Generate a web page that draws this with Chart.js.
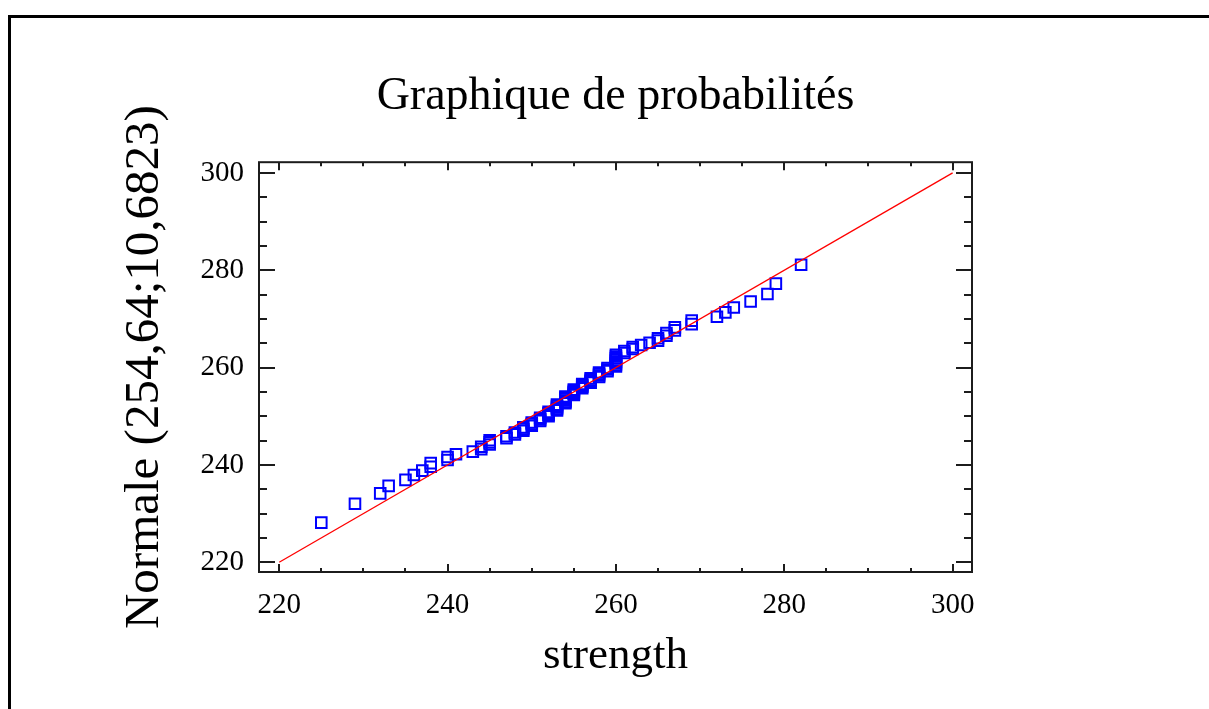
<!DOCTYPE html>
<html>
<head>
<meta charset="utf-8">
<script src="https://cdn.jsdelivr.net/npm/chart.js@4.4.0/dist/chart.umd.min.js"></script>
<style>
  body { margin: 0; background: #fff; overflow: hidden; }
  #frame { position: absolute; left: 8px; top: 15px; width: 1300px; height: 800px;
           border-left: 3px solid #000; border-top: 3px solid #000; }
  canvas { position: absolute; left: 0; top: 0; }
</style>
</head>
<body>
<div id="frame"></div>
<canvas id="myChart" width="1209" height="709"></canvas>
<script>
// sorted strength values (x)
var strength = [
  225, 229, 232, 233, 235, 236, 237, 238, 238, 240,
  240, 241, 243, 244, 244, 245, 245, 245, 247, 247,
  248, 248, 249, 249, 249, 250, 250, 250, 251, 251,
  251, 252, 252, 252, 252, 253, 253, 253, 253, 253,
  254, 254, 254, 254, 254, 254, 255, 255, 255, 255,
  255, 256, 256, 256, 256, 257, 257, 257, 257, 258,
  258, 258, 258, 259, 259, 259, 260, 260, 260, 260,
  260, 260, 260, 260, 261, 261, 262, 262, 263, 264,
  265, 265, 266, 266, 267, 267, 269, 269, 272, 273,
  274, 276, 278, 279, 282
];
// matching positions on the Normale(254,64;10,6823) axis
var normale = [
  228.15, 232.02, 234.16, 235.69, 236.92, 237.94, 238.84, 239.63, 240.36, 241.01,
  241.63, 242.20, 242.74, 243.24, 243.73, 244.19, 244.64, 245.07, 245.47, 245.88,
  246.27, 246.65, 247.01, 247.37, 247.72, 248.06, 248.40, 248.73, 249.05, 249.37,
  249.68, 250.00, 250.30, 250.61, 250.91, 251.21, 251.50, 251.80, 252.09, 252.38,
  252.66, 252.94, 253.23, 253.52, 253.80, 254.07, 254.36, 254.64, 254.92, 255.21,
  255.48, 255.76, 256.05, 256.34, 256.62, 256.90, 257.19, 257.48, 257.78, 258.07,
  258.37, 258.67, 258.98, 259.28, 259.60, 259.91, 260.23, 260.55, 260.88, 261.22,
  261.56, 261.91, 262.27, 262.63, 263.01, 263.40, 263.81, 264.21, 264.64, 265.09,
  265.55, 266.04, 266.54, 267.08, 267.65, 268.27, 268.92, 269.65, 270.44, 271.34,
  272.36, 273.59, 275.12, 277.26, 281.13
];
// reference line y = x
var refX = [220, 300];
var refY = [220, 300];

var xTicks = [220, 240, 260, 280, 300];
var yTicks = [220, 240, 260, 280, 300];
var minorStep = 5;

Chart.defaults.font.family = "'Liberation Serif', 'Times New Roman', serif";
Chart.defaults.color = '#000';

// box around the plot with inward ticks on all four sides
var boxTicks = {
  id: 'boxTicks',
  afterDatasetsDraw: function(chart) {
    var ctx = chart.ctx, a = chart.chartArea;
    var xs = chart.scales.x, ys = chart.scales.y;
    ctx.save();
    ctx.strokeStyle = '#1c1c1c';
    ctx.lineWidth = 2;
    ctx.strokeRect(a.left, a.top, a.right - a.left, a.bottom - a.top);
    ctx.beginPath();
    var v, p, len;
    for (v = xTicks[0]; v <= xTicks[xTicks.length - 1]; v += minorStep) {
      p = Math.round(xs.getPixelForValue(v));
      len = xTicks.indexOf(v) >= 0 ? 8 : 4;
      ctx.moveTo(p, a.bottom); ctx.lineTo(p, a.bottom - len);
      ctx.moveTo(p, a.top); ctx.lineTo(p, a.top + len);
    }
    for (v = yTicks[0]; v <= yTicks[yTicks.length - 1]; v += minorStep) {
      p = Math.round(ys.getPixelForValue(v));
      len = yTicks.indexOf(v) >= 0 ? 16 : 8;
      ctx.moveTo(a.left, p); ctx.lineTo(a.left + len, p);
      ctx.moveTo(a.right, p); ctx.lineTo(a.right - len, p);
    }
    ctx.stroke();
    ctx.restore();
  }
};

var points = strength.map(function(s, i) { return { x: s, y: normale[i] }; });
var line = refX.map(function(s, i) { return { x: s, y: refY[i] }; });

var ctx = document.getElementById('myChart').getContext('2d');
var probChart = new Chart(ctx, {
  type: 'scatter',
  data: {
    datasets: [
      {
        label: 'ref',
        data: line,
        showLine: true,
        borderColor: '#ff0000',
        borderWidth: 1.3,
        pointRadius: 0
      },
      {
        label: 'strength',
        data: points,
        pointStyle: 'rect',
        pointRadius: 7.5,
        borderWidth: 2,
        borderColor: '#0000ff',
        backgroundColor: 'rgba(0,0,0,0)'
      }
    ]
  },
  options: {
    responsive: false,
    animation: false,
    layout: { padding: { left: 0, right: 237, top: 0, bottom: 0 } },
    plugins: {
      legend: { display: false },
      tooltip: { enabled: false },
      title: {
        display: true,
        fullSize: false,
        text: 'Graphique de probabilités',
        color: '#000',
        font: { size: 46, weight: 'normal' },
        padding: { top: 69, bottom: 38 }
      }
    },
    scales: {
      x: {
        type: 'linear',
        min: 217.6,
        max: 302.3,
        grid: { display: false, drawTicks: false },
        border: { display: false },
        afterBuildTicks: function(s) { s.ticks = xTicks.map(function(v) { return { value: v }; }); },
        afterFit: function(s) { s.height = 137; },
        ticks: { color: '#000', font: { size: 29 }, padding: 16, maxRotation: 0 },
        title: {
          display: true, text: 'strength', color: '#000',
          font: { size: 45 }, padding: { top: 0, bottom: 26 }
        }
      },
      y: {
        type: 'linear',
        min: 218,
        max: 302.2,
        grid: { display: false, drawTicks: false },
        border: { display: false },
        afterBuildTicks: function(s) { s.ticks = yTicks.map(function(v) { return { value: v }; }); },
        afterFit: function(s) { s.width = 259; },
        ticks: { color: '#000', font: { size: 29 }, padding: 15 },
        title: {
          display: true, text: 'Normale (254,64;10,6823)', color: '#000',
          font: { size: 49 }, padding: { top: 116, bottom: 0 }
        }
      }
    }
  },
  plugins: [boxTicks]
});
</script>
</body>
</html>
